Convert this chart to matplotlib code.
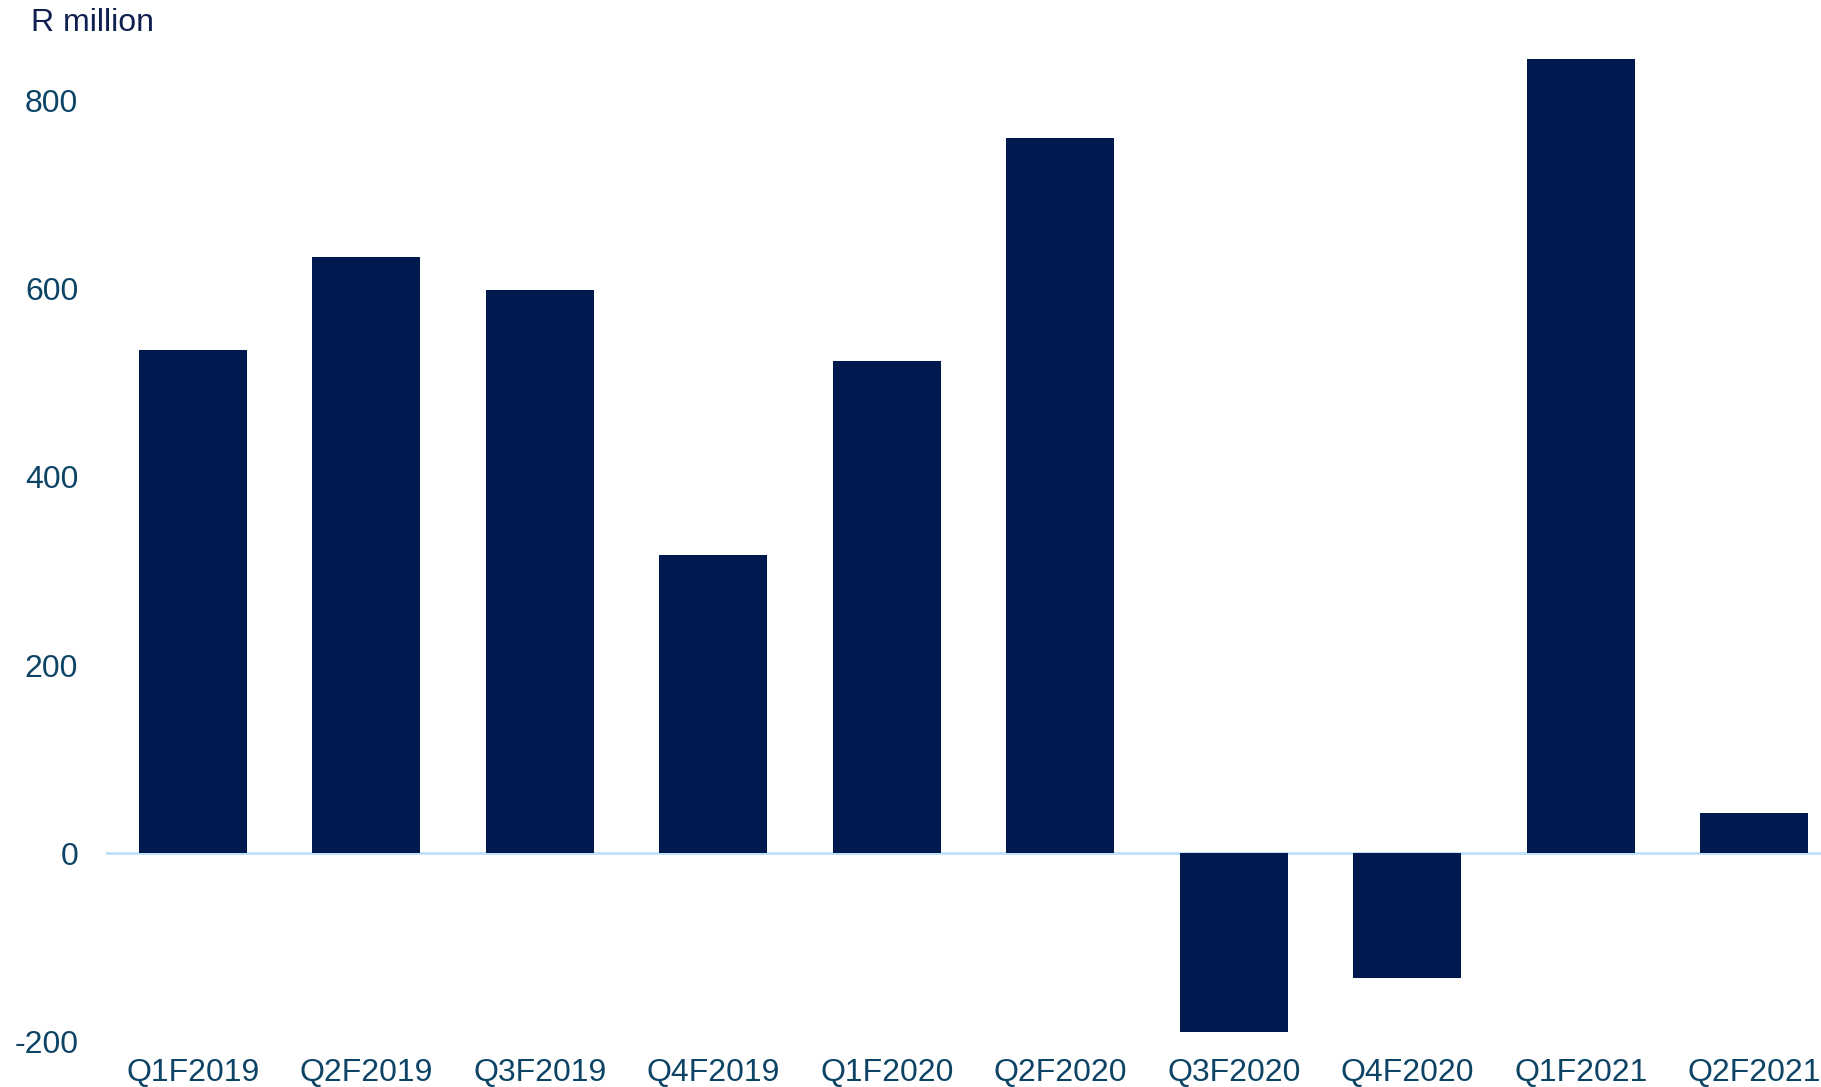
import matplotlib.pyplot as plt

plt.rcParams['font.family'] = ['Liberation Sans', 'DejaVu Sans']

quarters = ['Q1F2019', 'Q2F2019', 'Q3F2019', 'Q4F2019', 'Q1F2020',
            'Q2F2020', 'Q3F2020', 'Q4F2020', 'Q1F2021', 'Q2F2021']
values = [535, 633, 598, 317, 523, 760, -190, -132, 844, 43]
yticks = [-200, 0, 200, 400, 600, 800]

bar_color = '#001a4f'
label_color = '#0d4466'

fig = plt.figure(figsize=(18.21, 10.87), dpi=100)
# axes run slightly past the right edge so the last bar sits near the border
ax = fig.add_axes([106 / 1821, 45.4 / 1087, 1735 / 1821, 1035.6 / 1087])

x = list(range(len(quarters)))
ax.bar(x, values, width=0.62, color=bar_color, zorder=2)
ax.axhline(0, color='#bfe0f8', linewidth=2, zorder=1)

ax.set_xlim(-0.5, 9.5)
ax.set_ylim(-200, 900)
ax.set_yticks(yticks)
ax.set_yticklabels([str(v) for v in yticks])
ax.set_xticks(x)
ax.set_xticklabels(quarters)

ax.tick_params(axis='y', length=0, pad=20, labelsize=23, labelcolor=label_color)
ax.tick_params(axis='x', length=0, pad=12, labelsize=23, labelcolor=label_color)
for s in ax.spines.values():
    s.set_visible(False)

fig.text(31 / 1821, 1 - 31 / 1087, 'R million', fontsize=23, color='#0f1f4f',
         ha='left', va='baseline')

fig.savefig('out.png', dpi=100)
